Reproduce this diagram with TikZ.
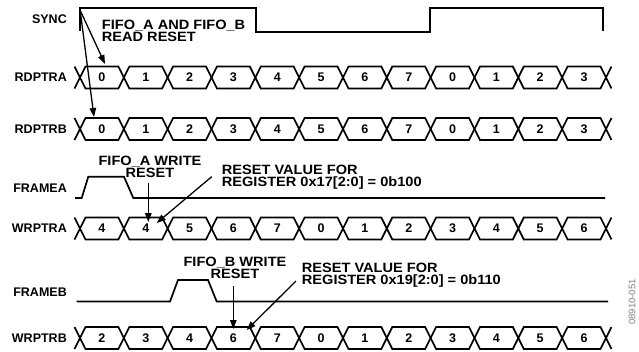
\documentclass[tikz,border=0pt]{standalone}
\usepackage{fontspec}
\setmainfont{Liberation Sans}
\newfontfamily\notefont[FakeStretch=1.08]{Liberation Sans}
\usetikzlibrary{arrows.meta}
\newcommand\mybus[3]{%
  \draw[busline] (74.5,#2-11) -- (80,#2) -- (74.5,#2+11);
  \foreach \v [count=\i from 0] in {#3} {
    \pgfmathsetmacro\xa{80+43.83*\i}
    \pgfmathsetmacro\xb{\xa+43.83}
    \draw[busline] (\xa,#2) -- (\xa+5.5,#2-11) -- (\xb-5.5,#2-11) -- (\xb,#2);
    \draw[busline] (\xa,#2) -- (\xa+5.5,#2+11) -- (\xb-5.5,#2+11) -- (\xb,#2);
    \node[val] (#1\i) at ({(\xa+\xb)/2},#2) {\v};
  }
  \draw[busline] (611.46,#2-11) -- (605.96,#2) -- (611.46,#2+11);
}
\begin{document}
\begin{tikzpicture}[x=1pt,y=-1pt,
  wave/.style={line width=1.7pt, line join=miter},
  busline/.style={line width=1.7pt},
  sig/.style={font=\bfseries\fontsize{12.5}{12}\selectfont, anchor=east, inner sep=0pt},
  val/.style={font=\bfseries\fontsize{12.5}{12}\selectfont, inner sep=0pt},
  note/.style={font=\notefont\bfseries\fontsize{13.5}{12}\selectfont, inner sep=0pt},
  ptr/.style={line width=1.3pt, -{Triangle[length=9pt,width=6.5pt]}},
]
\fill[white] (0,0) rectangle (639,351);
\useasboundingbox (0,0) rectangle (639,351);

% signal labels
\node[sig] (lsync) at (67,19) {SYNC};
\node[sig] (lra) at (67,77.5) {RDPTRA};
\node[sig] (lrb) at (67,129) {RDPTRB};
\node[sig] (lfa) at (67,188) {FRAMEA};
\node[sig] (lwa) at (67,228.5) {WRPTRA};
\node[sig] (lfb) at (67,292) {FRAMEB};
\node[sig] (lwb) at (67,338) {WRPTRB};

% SYNC waveform
\draw[wave] (80,31) -- (80,8) -- (256,8) -- (256,31.7) -- (430,31.7) -- (430,8) -- (603,8) -- (603,31);

% buses
\mybus{ra}{77.5}{0,1,2,3,4,5,6,7,0,1,2,3}
\mybus{rb}{129}{0,1,2,3,4,5,6,7,0,1,2,3}
\mybus{wa}{228.5}{4,4,5,6,7,0,1,2,3,4,5,6}
\mybus{wb}{338}{2,3,4,6,7,0,1,2,3,4,5,6}

% FRAMEA / FRAMEB
\draw[wave] (75,198) -- (81.7,198) -- (88.3,176.7) -- (124,176.7) -- (133.3,198) -- (605,198);
\draw[wave] (76.7,301.5) -- (170,301.5) -- (178,280) -- (208,280) -- (216.7,301.5) -- (608,301.5);

% notes
\node[note, align=left, anchor=north west] (rr) at (101.7,20.2) {FIFO\_A AND FIFO\_B\\READ RESET};
\node[note, align=center, anchor=north] (fa) at (150,155.9) {FIFO\_A WRITE\\RESET};
\node[note, align=left, anchor=north west] (va) at (221.7,165.2) {RESET VALUE FOR\\REGISTER 0x17[2:0] = 0b100};
\node[note, align=center, anchor=north] (fb) at (235,256.9) {FIFO\_B WRITE\\RESET};
\node[note, align=left, anchor=north west] (vb) at (301.7,263.2) {RESET VALUE FOR\\REGISTER 0x19[2:0] = 0b110};

% arrows
\coordinate (s0) at (80,10);
\coordinate (s0b) at (80.5,13);
\coordinate (t1) at (105,64);
\coordinate (t2) at (94,117);
\draw[ptr] (s0) -- (t1);
\draw[ptr] (s0b) -- (t2);
\coordinate (fa0) at (148.3,183);
\coordinate (fa1) at (148.3,222);
\draw[ptr] (fa0) -- (fa1);
\coordinate (va0) at (211.7,176.7);
\coordinate (va1) at (156.7,223);
\draw[ptr] (va0) -- (va1);
\coordinate (fb0) at (233.3,286);
\coordinate (fb1) at (233.3,329);
\draw[ptr] (fb0) -- (fb1);
\coordinate (vb0) at (296,281);
\coordinate (vb1) at (246.7,330);
\draw[ptr] (vb0) -- (vb1);

% figure code
\node[rotate=90, text=gray, font=\fontsize{9.5}{9.5}\selectfont, inner sep=0pt] (code) at (632,302) {08910-051};
\end{tikzpicture}
\end{document}
